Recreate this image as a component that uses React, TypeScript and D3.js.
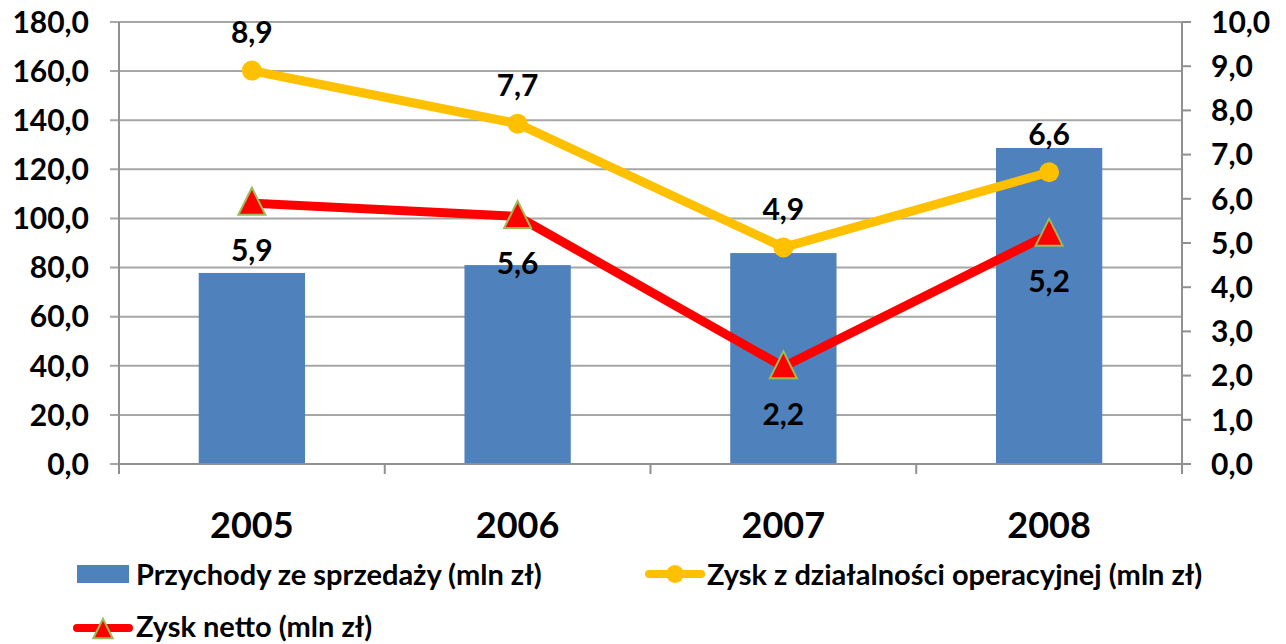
import React from "react";
import * as d3 from "d3";

const years = ["2005", "2006", "2007", "2008"];
const revenue = [77.8, 81.0, 85.9, 128.7];
const operatingProfit = [8.9, 7.7, 4.9, 6.6];
const netProfit = [5.9, 5.6, 2.2, 5.2];
const leftTicks = [0, 20, 40, 60, 80, 100, 120, 140, 160, 180];
const rightTicks = [0, 1, 2, 3, 4, 5, 6, 7, 8, 9, 10];
const seriesNames = [
  "Przychody ze sprzedaży (mln zł)",
  "Zysk z działalności operacyjnej (mln zł)",
  "Zysk netto (mln zł)",
];

const W = 1286;
const H = 644;
const left = 119;
const right = 1182;
const top = 22;
const bottom = 464;
const font = "Lato, sans-serif";
const fmt = (v: number) => v.toFixed(1).replace(".", ",");

export default function App() {
  const x = d3.scaleBand().domain(years).range([left, right]);
  const yL = d3.scaleLinear().domain([0, 180]).range([bottom, top]);
  const yR = d3.scaleLinear().domain([0, 10]).range([bottom, top]);
  const cx = (d: string) => (x(d) as number) + x.bandwidth() / 2;
  const barW = x.bandwidth() * 0.4;

  const line = d3
    .line<number>()
    .x((_, i) => cx(years[i]))
    .y((d) => yR(d));

  const tri = (px: number, py: number, s = 1) =>
    `M${px},${py - 15.5 * s}L${px + 13.5 * s},${py + 11.5 * s}L${px - 13.5 * s},${py + 11.5 * s}Z`;

  return (
    <svg
      width={W}
      height={H}
      style={{ position: "absolute", left: 0, top: 0 }}
      fontFamily={font}
      fontWeight="bold"
    >
      {/* grid */}
      {leftTicks.map((t) => (
        <line key={t} x1={left - 9} x2={right} y1={yL(t)} y2={yL(t)} stroke="#a6a6a6" strokeWidth={2} />
      ))}
      {rightTicks.map((t) => (
        <line key={t} x1={right} x2={right + 9} y1={yR(t)} y2={yR(t)} stroke="#909090" strokeWidth={2} />
      ))}
      {/* bars */}
      {years.map((d, i) => (
        <rect key={d} x={cx(d) - barW / 2} y={yL(revenue[i])} width={barW} height={bottom - yL(revenue[i])} fill="#4f81bd" />
      ))}
      {/* axes */}
      <line x1={left} x2={left} y1={top} y2={bottom} stroke="#909090" strokeWidth={2} />
      <line x1={right} x2={right} y1={top} y2={bottom} stroke="#909090" strokeWidth={2} />
      <line x1={left} x2={right} y1={bottom} y2={bottom} stroke="#909090" strokeWidth={2} />
      {[...years.map((d) => x(d) as number), right].map((v, i) => (
        <line key={i} x1={v} x2={v} y1={bottom} y2={bottom + 10} stroke="#909090" strokeWidth={2} />
      ))}
      {leftTicks.map((t) => (
        <text key={t} x={89} y={yL(t)} dy="0.36em" textAnchor="end" fontSize={30}>{fmt(t)}</text>
      ))}
      {rightTicks.map((t) => (
        <text key={t} x={1211} y={yR(t)} dy="0.36em" textAnchor="start" fontSize={30}>{fmt(t)}</text>
      ))}
      {years.map((d) => (
        <text key={d} x={cx(d)} y={525} dy="0.36em" textAnchor="middle" fontSize={36}>{d}</text>
      ))}
      {/* lines */}
      <path d={line(operatingProfit) || ""} fill="none" stroke="#ffc000" strokeWidth={9} strokeLinejoin="round" />
      <path d={line(netProfit) || ""} fill="none" stroke="#ff0000" strokeWidth={9} strokeLinejoin="round" />
      {operatingProfit.map((v, i) => (
        <circle key={i} cx={cx(years[i])} cy={yR(v)} r={10} fill="#ffc000" />
      ))}
      {netProfit.map((v, i) => (
        <path key={i} d={tri(cx(years[i]), yR(v))} fill="#ff0000" stroke="#9bbb59" strokeWidth={2} />
      ))}
      {operatingProfit.map((v, i) => (
        <text key={i} x={cx(years[i])} y={yR(v) - 38} dy="0.36em" textAnchor="middle" fontSize={30}>{fmt(v)}</text>
      ))}
      {netProfit.map((v, i) => (
        <text key={i} x={cx(years[i])} y={yR(v) + 47} dy="0.36em" textAnchor="middle" fontSize={30}>{fmt(v)}</text>
      ))}
      {/* legend */}
      <rect x={77} y={565} width={52} height={18} fill="#4f81bd" />
      <text x={136} y={575} dy="0.36em" fontSize={29}>{seriesNames[0]}</text>
      <line x1={649} x2={701} y1={574} y2={574} stroke="#ffc000" strokeWidth={8} strokeLinecap="round" />
      <circle cx={675} cy={574} r={9} fill="#ffc000" />
      <text x={707} y={575} dy="0.36em" fontSize={29}>{seriesNames[1]}</text>
      <line x1={77} x2={129} y1={628} y2={628} stroke="#ff0000" strokeWidth={8} strokeLinecap="round" />
      <path d={tri(103, 630, 0.72)} fill="#ff0000" stroke="#9bbb59" strokeWidth={2} />
      <text x={136} y={627} dy="0.36em" fontSize={29}>{seriesNames[2]}</text>
    </svg>
  );
}
